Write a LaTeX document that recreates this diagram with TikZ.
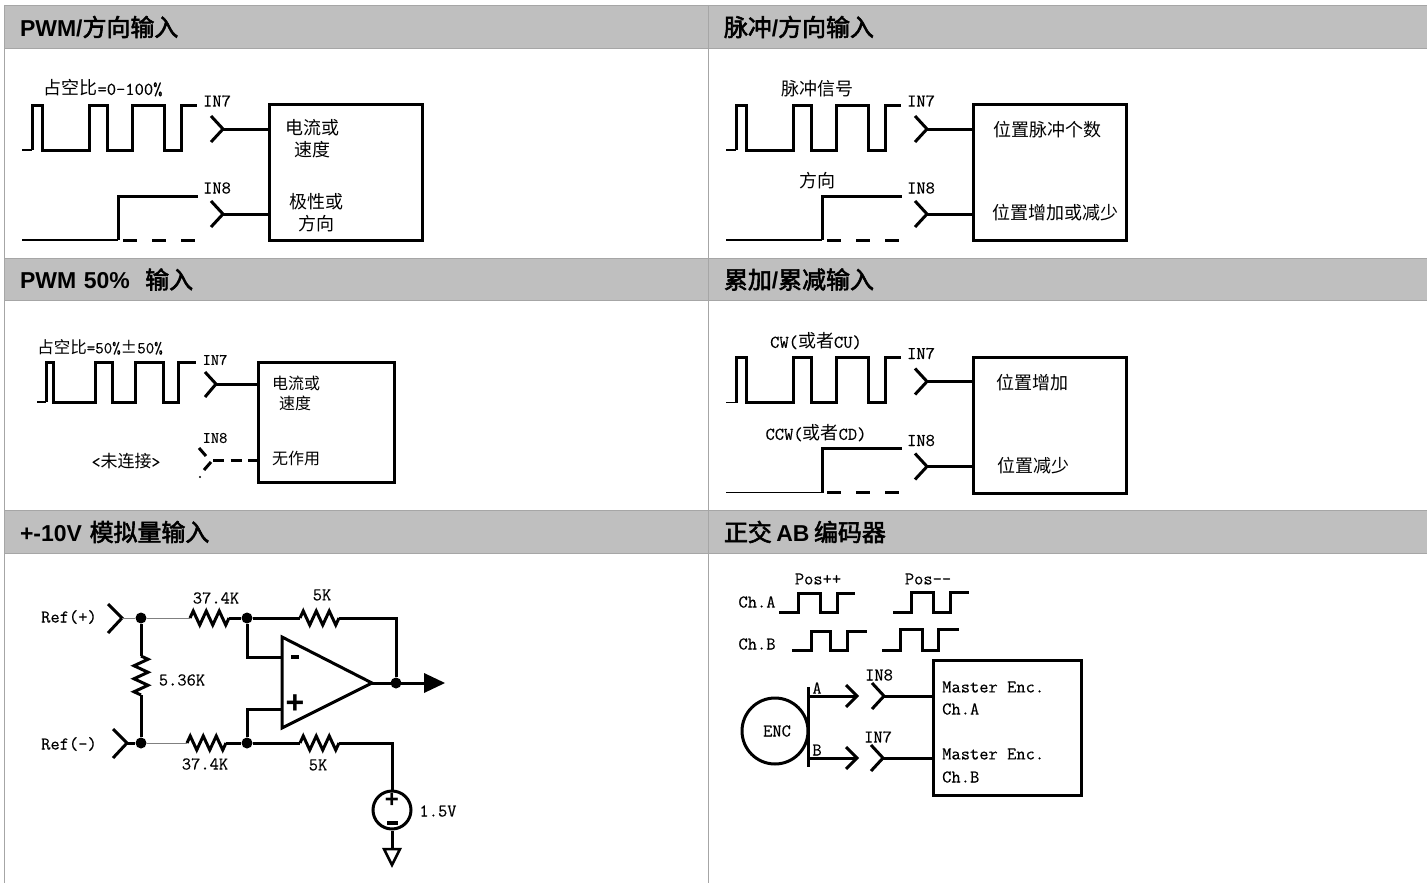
\documentclass[tikz,border=0pt]{standalone}
\usepackage{fontspec}
\setmainfont{Liberation Sans}
\setmonofont[FakeBold=0.25]{Latin Modern Mono}
\newfontfamily\zhfont{Noto Sans CJK SC}
\newfontfamily\zhhead[Scale=1.04,FakeBold=2.5]{Noto Sans CJK SC}
\usepackage{tikz}
\usetikzlibrary{calc,decorations.pathmorphing}
\definecolor{headgray}{RGB}{191,191,191}
\definecolor{rulegray}{RGB}{166,166,166}
\newcommand{\zh}[1]{{\zhfont #1}}
\newcommand{\zb}[1]{{\zhhead\mdseries #1}}
\tikzset{
    headband/.style={anchor=north west, fill=headgray, draw=rulegray, line width=1pt, minimum height=43pt, inner ysep=0pt, inner xsep=15.5pt, text width=#1, align=left, font=\fontsize{23}{26}\selectfont\bfseries},
    lbl/.style={inner sep=0pt, font=\fontsize{18}{20}\selectfont\ttfamily},
    smalllbl/.style={inner sep=0pt, font=\fontsize{16}{18}\selectfont\ttfamily},
    wire/.style={line width=3pt, line join=miter},
    thinwire/.style={line width=1.5pt},
    hairwire/.style={line width=1pt, draw=gray},
    dashwire/.style={line width=3pt, dash pattern=on 14pt off 15pt},
    blockbox/.style={draw, line width=3pt, minimum width=#1, inner sep=0pt},
    res/.style={wire, decorate, decoration={zigzag, segment length=13pt, amplitude=7pt}},
    joint/.style={circle, fill=black, minimum size=11pt, inner sep=0pt},
    minusbar/.style={fill=black, inner sep=0pt, minimum height=3.5pt, minimum width=#1},
}
\newcommand{\pinmark}[3]{
    \coordinate (#1) at (#2,#3);
    \draw[wire] ($(#1)+(-12,-13)$) -- (#1) -- ($(#1)+(-12,13)$);
}
\newcommand{\pulsepanel}[3]{
    \begin{scope}[shift={(#2,#3)}]
        \draw[thinwire] (22,150) -- (32,150);
        \draw[wire] (32,150) -- (32,105) -- (42,105) -- (42,150) -- (89,150) -- (89,105) -- (107,105) -- (107,150) -- (132,150) -- (132,105) -- (164,105) -- (164,150) -- (181,150) -- (181,105) -- (197,105);
        \draw[thinwire] (22,240) -- (118,240);
        \draw[wire] (118,240) -- (118,196) -- (198,196);
        \draw[dashwire] (123,240) -- (195,240);
        \node[lbl] (#1ina) at (217,101) {IN7};
        \node[lbl] (#1inb) at (217,188) {IN8};
        \pinmark{#1pa}{223}{129}
        \pinmark{#1pb}{223}{214}
        \node[blockbox=153pt, minimum height=136pt] (#1box) at (346,172.5) {};
        \draw[wire] (#1pa) -- (#1pa -| #1box.west);
        \draw[wire] (#1pb) -- (#1pb -| #1box.west);
    \end{scope}
}
\begin{document}
\begin{tikzpicture}[x=1pt,y=-1pt]
    \useasboundingbox (0,0) rectangle (1427,883);
    \draw[rulegray, line width=1pt] (4,5) -- (4,883);
    \draw[rulegray, line width=1pt] (708,5) -- (708,883);

    \node[headband=673pt] (headpwm) at (4,5) {PWM/\zb{方向输入}};
    \node[headband=688pt] (headpulse) at (708,5) {\zb{脉冲}/\zb{方向输入}};
    \node[headband=673pt, minimum height=42pt] (headfifty) at (4,258) {PWM 50\%\ \ \zb{输入}};
    \node[headband=688pt, minimum height=42pt] (headcount) at (708,258) {\zb{累加}/\zb{累减输入}};
    \node[headband=673pt] (headanalog) at (4,510) {+-10V \zb{模拟量输入}};
    \node[headband=688pt] (headquad) at (708,510) {\zb{正交}\hspace{4.5pt}AB\hspace{4.5pt}\zb{编码器}};

    \pulsepanel{pwm}{0}{0}
    \node[lbl] (pwmduty) at (103,88) {\zh{占空比}=0-100\%};
    \node[lbl] (pwmcur) at (312,128) {\zh{电流或}};
    \node[lbl] (pwmspd) at (312,150) {\zh{速度}};
    \node[lbl] (pwmpol) at (316,202) {\zh{极性或}};
    \node[lbl] (pwmdir) at (316,224) {\zh{方向}};

    \pulsepanel{pul}{704}{0}
    \node[lbl] (pulsig) at (817,89) {\zh{脉冲信号}};
    \node[lbl] (puldir) at (817,181) {\zh{方向}};
    \node[lbl] (pulcnt) at (1047,130) {\zh{位置脉冲个数}};
    \node[lbl] (pulinc) at (1055,213) {\zh{位置增加或减少}};

    \pulsepanel{cnt}{704}{252.5}
    \node[lbl] (cntcw) at (816,341) {CW(\zh{或者}CU)};
    \node[lbl] (cntccw) at (816,433) {CCW(\zh{或者}CD)};
    \node[lbl] (cntinc) at (1032,383) {\zh{位置增加}};
    \node[lbl] (cntdec) at (1033,466) {\zh{位置减少}};

    \draw[thinwire, line width=2pt] (37,402) -- (46,402);
    \draw[wire] (46,402) -- (46,362) -- (53,362) -- (53,402) -- (95,402) -- (95,362) -- (112,362) -- (112,402) -- (135,402) -- (135,362) -- (163,362) -- (163,402) -- (178,402) -- (178,362) -- (196,362);
    \node[smalllbl, font=\fontsize{16.5}{18}\selectfont\ttfamily] (fifduty) at (100,347) {\zh{占空比}=50\%\zh{±}50\%};
    \node[smalllbl] (fifina) at (215,360) {IN7};
    \node[smalllbl] (fifinb) at (215,438) {IN8};
    \node[lbl, font=\fontsize{17}{18}\selectfont\ttfamily] (fifnc) at (126,461) {<\zh{未连接}>};
    \coordinate (fifpa) at (216,384);
    \draw[wire] (205,372) -- (fifpa) -- (205,397);
    \node[blockbox=136pt, minimum height=120pt] (fifbox) at (326.5,422.5) {};
    \draw[wire] (fifpa) -- (fifpa -| fifbox.west);
    \coordinate (fifpb) at (213,460);
    \draw[wire] (199,448) -- (206,456);
    \draw[wire] (211,462) -- (204,470);
    \fill (200,477) circle (1.2pt);
    \draw[line width=3pt, dash pattern=on 11pt off 6.5pt] (fifpb) -- (fifpb -| fifbox.west);
    \node[smalllbl] (fifcur) at (296,383) {\zh{电流或}};
    \node[smalllbl] (fifspd) at (295,403) {\zh{速度}};
    \node[smalllbl] (fifnone) at (296,458) {\zh{无作用}};

    \node[lbl] (refp) at (69,617) {Ref(+)};
    \node[lbl] (refn) at (69,744) {Ref(-)};
    \coordinate (refptip) at (122,618);
    \coordinate (refntip) at (127,743);
    \draw[wire] (108,604) -- (refptip) -- (108,633);
    \draw[wire] (113,729) -- (refntip) -- (113,758);
    \node[joint] (jrefp) at (141,618) {};
    \node[joint] (jrefn) at (141,743) {};
    \node[joint] (jinp) at (247,618) {};
    \node[joint] (jinn) at (247,743) {};
    \node[joint] (jout) at (396,683) {};
    \coordinate (r1a) at (190,618);
    \coordinate (r1b) at (229,618);
    \coordinate (r2a) at (300,618);
    \coordinate (r2b) at (339,618);
    \coordinate (r3a) at (187,743);
    \coordinate (r3b) at (226,743);
    \coordinate (r4a) at (300,743);
    \coordinate (r4b) at (339,743);
    \coordinate (r5a) at (141,656);
    \coordinate (r5b) at (141,695);
    \coordinate (ampa) at (282,637);
    \coordinate (ampb) at (282,728);
    \coordinate (amptip) at (372,683);
    \coordinate (ampm) at (282,657);
    \coordinate (ampp) at (282,709);
    \coordinate (outtip) at (445,683);
    \coordinate (outend) at (424,683);
    \draw[wire] (ampa) -- (ampb) -- (amptip) -- cycle;
    \draw[hairwire] (refptip) -- (jrefp) -- (r1a);
    \draw[hairwire] (jrefn) -- (r3a);
    \draw[wire] (refntip) -- (jrefn);
    \draw[res] (r1a) -- (r1b);
    \draw[res] (r2a) -- (r2b);
    \draw[res] (r3a) -- (r3b);
    \draw[res] (r4a) -- (r4b);
    \draw[res] (r5a) -- (r5b);
    \draw[wire] (r1b) -- (jinp) -- (r2a);
    \draw[wire] (r2b) -| (jout);
    \draw[wire] (jinp) |- (ampm);
    \draw[wire] (jinn) |- (ampp);
    \draw[wire] (r3b) -- (jinn) -- (r4a);
    \draw[wire] (jrefp) -- (r5a);
    \draw[wire] (r5b) -- (jrefn);
    \draw[wire] (amptip) -- (outend);
    \fill (outend) -- ++(0,-10) -- (outtip) -- (424,693) -- cycle;
    \node[minusbar=8pt] (ampminus) at (295,657) {};
    \node[lbl, font=\fontsize{32}{34}\selectfont\rmfamily\bfseries] (ampplus) at (295,704) {+};
    \node[circle, draw, line width=3pt, minimum size=38pt, inner sep=0pt] (srcv) at (392,810) {};
    \draw[wire] (r4b) -| (srcv.north);
    \coordinate (gndtop) at (392,849);
    \draw[wire] (srcv.south) -- (gndtop);
    \draw[line width=2.5pt] (384,849) -- (400,849) -- (392,865) -- cycle;
    \node[lbl, font=\fontsize{24}{26}\selectfont\rmfamily\bfseries] (srcplus) at (392,800) {+};
    \node[minusbar=11pt] (srcminus) at (392,823) {};
    \node[lbl] (lblr1) at (216,598) {37.4K};
    \node[lbl] (lblr2) at (322,595) {5K};
    \node[lbl] (lblr3) at (205,764) {37.4K};
    \node[lbl] (lblr4) at (318,765) {5K};
    \node[lbl] (lblr5) at (182,680) {5.36K};
    \node[lbl] (lblsrc) at (438,811) {1.5V};

    \node[lbl] (posup) at (818,579) {Pos++};
    \node[lbl] (posdown) at (928,579) {Pos-{}-};
    \node[lbl] (cha) at (757,602) {Ch.A};
    \node[lbl] (chb) at (757,644) {Ch.B};
    \draw[wire] (779,612) -- (798,612) -- (798,593) -- (820,593) -- (820,612) -- (837,612) -- (837,593) -- (855,593);
    \draw[wire] (893,612) -- (911,612) -- (911,592) -- (933,592) -- (933,612) -- (950,612) -- (950,592) -- (969,592);
    \draw[wire] (792,650) -- (811,650) -- (811,631) -- (830,631) -- (830,650) -- (847,650) -- (847,631) -- (867,631);
    \draw[wire] (882,650) -- (900,650) -- (900,629) -- (922,629) -- (922,650) -- (938,650) -- (938,629) -- (959,629);
    \node[circle, draw, line width=3pt, minimum size=66pt, inner sep=0pt] (enc) at (775,731) {};
    \node[lbl] (enclbl) at (777,731) {ENC};
    \coordinate (bartop) at (808,687);
    \coordinate (barbot) at (808,767);
    \draw[wire] (bartop) -- (barbot);
    \coordinate (aout) at (808,696);
    \coordinate (bout) at (808,758);
    \coordinate (atip) at (857,696);
    \coordinate (btip) at (857,758);
    \draw[wire] (aout) -- (atip);
    \draw[wire] (bout) -- (btip);
    \draw[wire] (846,685) -- (atip) -- (846,707);
    \draw[wire] (846,747) -- (btip) -- (846,769);
    \node[lbl] (alabel) at (817,688) {A};
    \node[lbl] (blabel) at (817,750) {B};
    \node[lbl] (encina) at (879,675) {IN8};
    \node[lbl] (encinb) at (878,737) {IN7};
    \pinmark{encpa}{884}{696}
    \pinmark{encpb}{883}{758}
    \node[blockbox=148pt, minimum height=135pt] (encbox) at (1007.5,728) {};
    \draw[wire] (encpa) -- (encpa -| encbox.west);
    \draw[wire] (encpb) -- (encpb -| encbox.west);
    \node[lbl, anchor=west] (menca) at (942,687) {Master Enc.};
    \node[lbl, anchor=west] (cha2) at (942,709) {Ch.A};
    \node[lbl, anchor=west] (mencb) at (942,754) {Master Enc.};
    \node[lbl, anchor=west] (chb2) at (942,777) {Ch.B};
\end{tikzpicture}
\end{document}
